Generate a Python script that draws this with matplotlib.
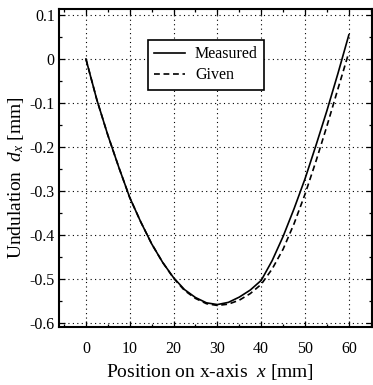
import numpy as np
import matplotlib
matplotlib.use('Agg')
import matplotlib.pyplot as plt
from matplotlib.ticker import MultipleLocator

plt.rcParams['font.family'] = ['Liberation Serif', 'DejaVu Serif']
plt.rcParams['mathtext.fontset'] = 'custom'
plt.rcParams['mathtext.rm'] = 'Liberation Serif'
plt.rcParams['mathtext.it'] = 'Liberation Serif:italic'
plt.rcParams['axes.unicode_minus'] = False

# Position on x-axis [mm]
x_pos = [0, 2.5, 5, 7.5, 10, 12.5, 15, 17.5, 20, 22.5, 25, 27.5, 30,
         32.5, 35, 37.5, 40, 42.5, 45, 47.5, 50, 52.5, 55, 57.5, 60]
# measured undulation dx [mm]
measured = [0, -0.093, -0.173, -0.246, -0.315, -0.370, -0.420, -0.462, -0.497,
            -0.524, -0.542, -0.554, -0.558, -0.553, -0.541, -0.525, -0.503,
            -0.458, -0.403, -0.340, -0.272, -0.196, -0.117, -0.033, 0.055]
# given undulation dx [mm]
given = [0, -0.093, -0.173, -0.246, -0.315, -0.370, -0.420, -0.462, -0.498,
         -0.526, -0.544, -0.556, -0.560, -0.557, -0.548, -0.533, -0.512,
         -0.477, -0.432, -0.374, -0.307, -0.232, -0.152, -0.068, 0.015]

xticks = [0, 10, 20, 30, 40, 50, 60]
yticks = [0.1, 0, -0.1, -0.2, -0.3, -0.4, -0.5, -0.6]
ytick_labels = ['0.1', '0', '-0.1', '-0.2', '-0.3', '-0.4', '-0.5', '-0.6']

fig = plt.figure(figsize=(3.73, 3.85), dpi=100)
ax = fig.add_axes([0.158, 0.1506, 0.839, 0.826])

ax.plot(x_pos, measured, color='black', lw=1.2, label='Measured')
ax.plot(x_pos, given, color='black', lw=1.2, dashes=(3.5, 2.2), label='Given')

ax.set_xlim(-6.16, 65.25)
ax.set_ylim(-0.609, 0.1136)
ax.set_xticks(xticks)
ax.set_yticks(yticks)
ax.set_yticklabels(ytick_labels)
ax.xaxis.set_minor_locator(MultipleLocator(5))
ax.yaxis.set_minor_locator(MultipleLocator(0.05))
ax.tick_params(which='both', direction='in', top=True, right=True, width=0.9,
               labelsize=11.5, color='black')
ax.tick_params(which='major', length=4)
ax.tick_params(which='minor', length=2.5)
ax.tick_params(axis='x', pad=10)
ax.tick_params(axis='y', pad=3)
for s in ax.spines.values():
    s.set_linewidth(1.5)

ax.grid(True, which='major', color='black', linestyle=(0, (1, 3)), lw=0.8)

ax.set_xlabel(r'Position on x-axis  $x$ [mm]', fontsize=14)
ax.set_ylabel(r'Undulation  $d_x$ [mm]', fontsize=14)
ax.xaxis.set_label_coords(0.483, -0.11)
ax.yaxis.set_label_coords(-0.105, 0.47)

leg = ax.legend(loc='upper left', bbox_to_anchor=(0.284, 0.9025), borderaxespad=0,
                fontsize=11.5, frameon=True, fancybox=False, framealpha=1,
                edgecolor='black', handlelength=1.9, handletextpad=0.65,
                labelspacing=0.3, borderpad=0.4)
leg.get_frame().set_linewidth(1.2)

fig.savefig('out.png', dpi=100)
